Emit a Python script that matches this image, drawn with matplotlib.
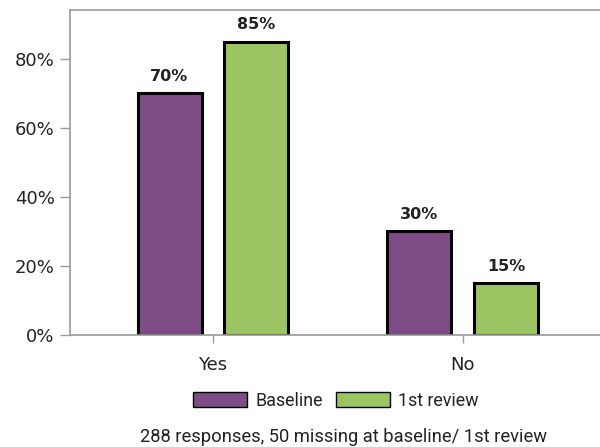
import matplotlib.pyplot as plt
import numpy as np

# === Data ===
categories = ["Yes", "No"]
baseline = [70, 30]
first_review = [85, 15]
series_names = ["Baseline", "1st review"]
y_ticks = [0, 20, 40, 60, 80]
footnote = "288 responses, 50 missing at baseline/ 1st review"

purple = "#7E4C86"
green = "#9BC563"
axis_grey = "#9a9a9a"
text_col = "#222222"

# === Setup ===
x = np.arange(len(categories))
bar_width = 0.256
offset = 0.173

fig = plt.figure(figsize=(6, 4.47), dpi=100)
# axes box: left 70px, top 9.5px, bottom (0%) at 335px, runs to right edge
ax = fig.add_axes([70 / 600, 1 - 335 / 447, 530 / 600, (335 - 9.5) / 447])

bars_base = ax.bar(x - offset, baseline, width=bar_width, color=purple,
                   edgecolor="black", linewidth=2.2, label=series_names[0])
bars_rev = ax.bar(x + offset, first_review, width=bar_width, color=green,
                  edgecolor="black", linewidth=2.2, label=series_names[1])

# === Labels on bars ===
for bars in [bars_base, bars_rev]:
    for bar in bars:
        h = bar.get_height()
        ax.annotate(f"{h:.0f}%", (bar.get_x() + bar.get_width() / 2, h),
                    xytext=(0, 7), textcoords="offset points",
                    ha="center", va="bottom", fontsize=11.5, fontweight="bold",
                    family="DejaVu Sans", color=text_col)

# === Formatting ===
ax.set_xlim(-0.571, 1.549)
ax.set_ylim(0, 94.3)
ax.set_xticks(x)
ax.set_xticklabels(categories, family="DejaVu Sans")
ax.set_yticks(y_ticks)
ax.set_yticklabels([f"{v}%" for v in y_ticks], family="DejaVu Sans")
ax.tick_params(axis="both", colors=axis_grey, labelcolor=text_col,
               labelsize=13, width=1)
ax.tick_params(axis="y", length=7, pad=4)
ax.tick_params(axis="x", length=6, pad=9)
for side in ["left", "bottom", "top"]:
    ax.spines[side].set_color(axis_grey)
    ax.spines[side].set_linewidth(1.2)
ax.spines["right"].set_visible(False)

leg = fig.legend(handles=[bars_base, bars_rev], labels=series_names,
                 loc="center", bbox_to_anchor=(336 / 600, 1 - 401 / 447),
                 ncol=2, frameon=False,
                 prop={"family": ["Roboto", "DejaVu Sans"], "size": 12.9},
                 handlelength=3.0, handleheight=0.9,
                 columnspacing=0.78, handletextpad=0.45, borderpad=0)
for t in leg.get_texts():
    t.set_color(text_col)
for h in leg.legend_handles:
    h.set_linewidth(1.0)

fig.text(343 / 600, 1 - 437 / 447, footnote, ha="center", va="center",
         fontsize=13.2, family=["Roboto", "DejaVu Sans"], color=text_col)

fig.savefig("out.png", dpi=100)
